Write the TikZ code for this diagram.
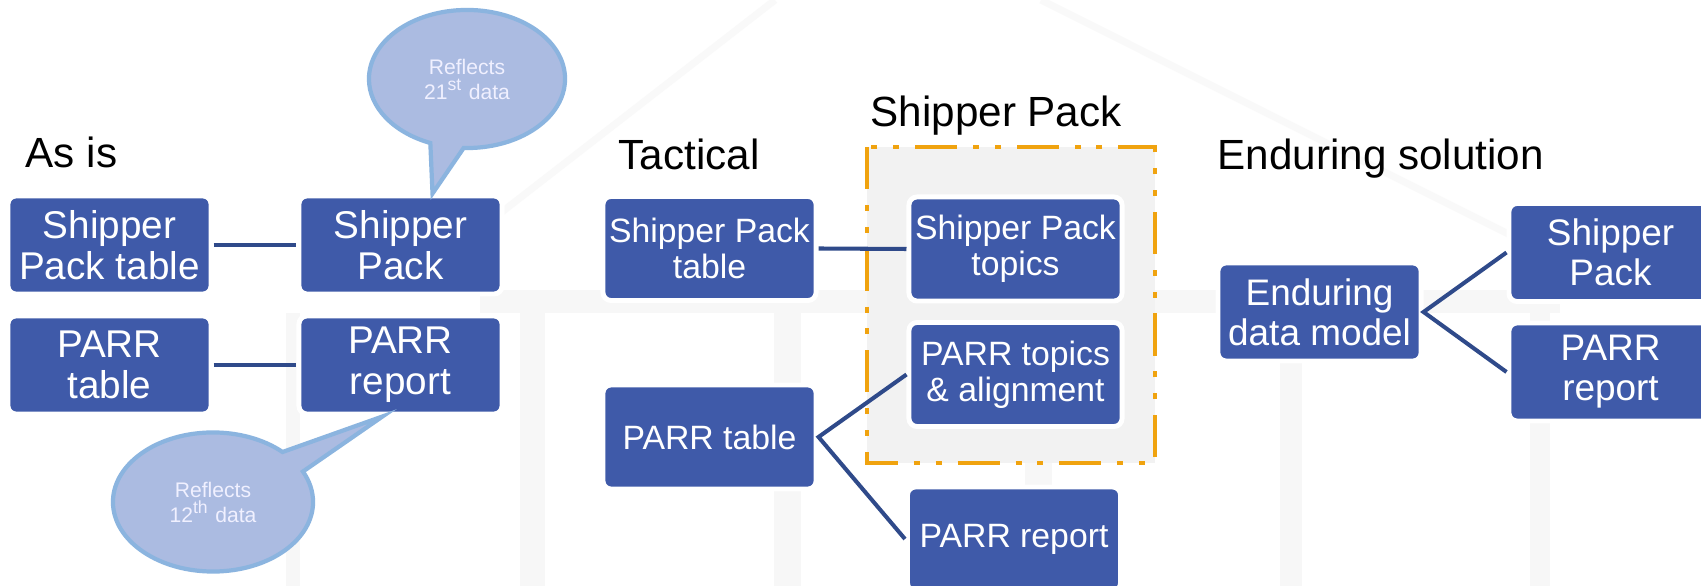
\documentclass[tikz,border=0pt]{standalone}
\usepackage{fontspec}
\setmainfont{Liberation Sans}
\usetikzlibrary{shapes.callouts}
\definecolor{boxblue}{HTML}{3F5AA9}
\definecolor{linkblue}{HTML}{2F4A8A}
\definecolor{bubblefill}{HTML}{ABBBE1}
\definecolor{bubbleedge}{HTML}{8BB4DF}
\definecolor{frameorange}{HTML}{F0A30F}
\definecolor{framefill}{HTML}{F2F2F2}
\tikzset{
  >=latex,
}
\tikzstyle{box}=[rectangle,rounded corners=2.3pt,fill=boxblue,draw=white,line width=1.4pt,text=white,align=center,inner sep=0pt]
\tikzstyle{asbox}=[box,minimum width=2.03cm,minimum height=0.98cm,font=\fontsize{11}{11.7}\selectfont]
\tikzstyle{tacbox}=[box,minimum width=2.13cm,minimum height=1.04cm,font=\fontsize{9.6}{10.2}\selectfont]
\tikzstyle{endbox}=[box,minimum width=2.03cm,minimum height=0.98cm,font=\fontsize{10.5}{11.4}\selectfont]
\tikzstyle{link}=[draw=linkblue,line width=1.15pt]
\tikzstyle{heading}=[anchor=base west,inner sep=0pt,font=\fontsize{12}{14}\selectfont]
\tikzstyle{bubble}=[ellipse callout,callout pointer arc=20,fill=bubblefill,draw=bubbleedge,line width=1.2pt,text=white!94!blue,align=center,inner sep=0pt,font=\fontsize{6}{7.1}\selectfont]
\tikzstyle{packframe}=[draw=frameorange,fill=framefill,line width=1.1pt,dash pattern=on 12pt off 4.5pt on 1.7pt off 4.5pt on 1.7pt off 4.5pt]
\tikzstyle{watermark}=[fill=black!3]

\begin{document}
\begin{tikzpicture}[x=0.01cm,y=-0.01cm]
    \clip (0,0) rectangle (1701,586);
    \fill[white] (0,0) rectangle (1701,586);
    % faint house behind the diagram
    \draw[black!2.5,line width=2pt] (775,0)--(440,260);
    \draw[black!2.5,line width=2pt] (1041,0)--(1580,270);
    \fill[watermark] (480,290) rectangle (1560,313);
    \foreach \a/\b in {286/300,520/545,774/801,1025/1052,1280/1302,1530/1550}
      \fill[watermark] (\a,313) rectangle (\b,586);
    % As is
    \node[heading] (asis) at (25,168) {As is};
    \node[asbox] (spt) at (109.5,245) {Shipper\\Pack table};
    \node[asbox] (asp) at (400.5,245) {Shipper\\Pack};
    \node[asbox] (prt) at (109.5,365) {PARR\\table};
    \node[asbox] (arp) at (400.5,365) {PARR\\report};
    \draw[link] (spt)--(asp);
    \draw[link] (prt)--(arp);
    \node[bubble,minimum width=1.96cm,minimum height=1.38cm,
      callout absolute pointer={([xshift=0.32cm]asp.north)}] (note21) at (467,79)
      {Reflects\\21\textsuperscript{st} data};
    \node[bubble,minimum width=2cm,minimum height=1.39cm,
      callout absolute pointer={([xshift=-0.18cm]arp.south)}] (note12) at (213,502)
      {Reflects\\12\textsuperscript{th} data};
    % Tactical
    \node[heading] (tactical) at (618,170) {Tactical};
    \node[heading] (packhead) at (870,127) {Shipper Pack};
    \draw[packframe] (867,147) rectangle (1155,463);
    \node[tacbox] (tspt) at (709.5,248.5) {Shipper Pack\\table};
    \node[tacbox] (tprt) at (709.5,437) {PARR table};
    \node[tacbox] (tspk) at (1015.5,249) {Shipper Pack\\topics};
    \node[tacbox] (tprk) at (1015.5,374.5) {PARR topics\\\& alignment};
    \node[tacbox] (tprr) at (1014,539) {PARR report};
    \draw[link] (tspt.east)--(tspk.west);
    \draw[link] (tprk.west)--(tprt.east)--(tprr.west);
    % Enduring solution
    \node[heading] (enduring) at (1217,170) {Enduring solution};
    \node[endbox] (edm) at (1319.5,312) {Enduring\\data model};
    \node[endbox] (esp) at (1610.5,252.5) {Shipper\\Pack};
    \node[endbox] (epr) at (1610.5,372) {PARR\\report};
    \draw[link] (esp.west)--(edm.east)--(epr.west);
\end{tikzpicture}
\end{document}
